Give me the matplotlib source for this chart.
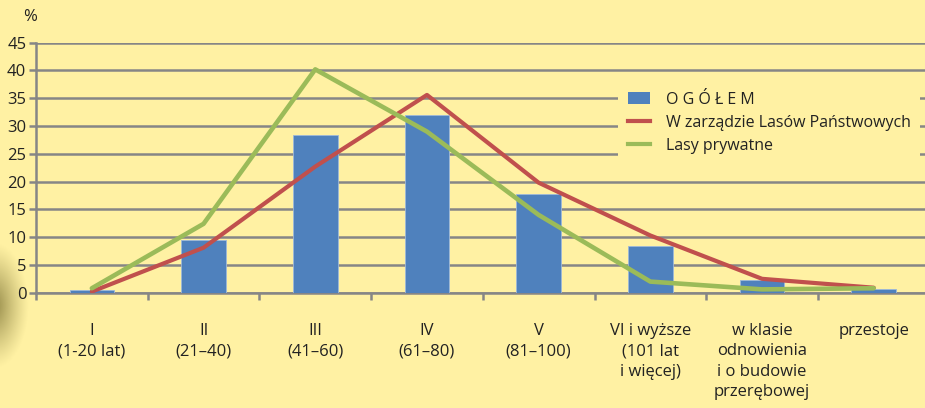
import matplotlib
matplotlib.use("Agg")
import matplotlib.pyplot as plt
import numpy as np
from matplotlib.lines import Line2D
from matplotlib.patches import Patch

categories = ["I\n(1-20 lat)", "II\n(21–40)", "III\n(41–60)", "IV\n(61–80)",
              "V\n(81–100)", "VI i wyższe\n(101 lat\ni więcej)",
              "w klasie\nodnowienia\ni o budowie\nprzerębowej", "przestoje"]
ogolem = [0.5, 9.4, 28.4, 31.9, 17.7, 8.35, 2.3, 0.7]
lp = [0.2, 8.1, 22.7, 35.6, 19.8, 10.3, 2.5, 0.9]
prywatne = [0.8, 12.4, 40.2, 29.0, 14.0, 2.0, 0.6, 0.8]
yticks = [0, 5, 10, 15, 20, 25, 30, 35, 40, 45]

bg = "#FFF1A3"
plt.rcParams['font.family'] = ['Open Sans', 'DejaVu Sans']
fig = plt.figure(figsize=(9.25, 4.08), dpi=100, facecolor=bg)

# decorative soft shadow at left edge (pixel-space background image)
bax = fig.add_axes([0, 0, 60/925, 1], zorder=0)
bax.set_axis_off()
W, H = 60, 408
yy, xx = np.mgrid[0:H, 0:W]
d = np.sqrt(((xx + 6) / 30.0) ** 2 + ((yy - 305) / 55.0) ** 2)
alpha = np.clip(1.15 - d, 0, 1) ** 1.2 * 0.75
img = np.zeros((H, W, 4))
img[..., 0] = 0x86 / 255
img[..., 1] = 0x7c / 255
img[..., 2] = 0x3c / 255
img[..., 3] = alpha
bax.imshow(img, extent=(0, W, H, 0), aspect="auto", interpolation="bilinear")
bax.set_xlim(0, W)
bax.set_ylim(H, 0)

ax = fig.add_axes([36/925, 115.3/408, 893.6/925, 250/408], zorder=1)
ax.set_facecolor("none")
x = np.arange(len(categories))
ax.bar(x, ogolem, width=0.4, color="#4F81BD", edgecolor="#9DB8DA", linewidth=0.6, zorder=3)
ax.plot(x, lp, color="#C0504D", lw=3.0, zorder=4, solid_capstyle="round")
ax.plot(x, prywatne, color="#9BBB59", lw=3.3, zorder=5, solid_capstyle="round")

ax.set_xlim(-0.5, len(categories) - 0.5)
ax.set_ylim(0, 45)
ax.set_yticks(yticks)
ax.yaxis.grid(True, color="#868686", lw=1.8, zorder=1)
ax.set_axisbelow(True)
for s in ["top", "right"]:
    ax.spines[s].set_visible(False)
for s in ["left", "bottom"]:
    ax.spines[s].set_color("#868686")
    ax.spines[s].set_linewidth(1.8)
ax.tick_params(axis="y", length=5, width=1.8, color="#868686", labelsize=12,
               labelcolor="#222222", pad=2)
ax.set_xticks(x)
ax.set_xticklabels(categories, fontsize=12, color="#222222", linespacing=1.35, va="top")
ax.tick_params(axis="x", which="major", length=0, pad=22)
ax.set_xticks(np.arange(len(categories)) - 0.5, minor=True)
ax.tick_params(axis="x", which="minor", length=5, width=1.8, color="#868686")

fig.text(30/925, 1 - 17/408, "%", fontsize=12, color="#222222", ha="center", va="center")

handles = [Patch(facecolor="#4F81BD", edgecolor="none"),
           Line2D([0], [0], color="#C0504D", lw=3),
           Line2D([0], [0], color="#9BBB59", lw=3)]
labels = ["O G Ó Ł E M", "W zarządzie Lasów Państwowych", "Lasy prywatne"]
leg = fig.legend(handles, labels, loc="upper left", bbox_to_anchor=(610/925, 1 - 74/408),
                 frameon=True, facecolor=bg, edgecolor="none", framealpha=1,
                 fontsize=11.5, handlelength=1.4, handleheight=0.8, labelspacing=0.45,
                 borderpad=0.6, handletextpad=1.0, labelcolor="#222222")
leg.get_frame().set_boxstyle("square", pad=0)
leg.set_zorder(2)

fig.savefig("out.png", dpi=100, facecolor=bg)
